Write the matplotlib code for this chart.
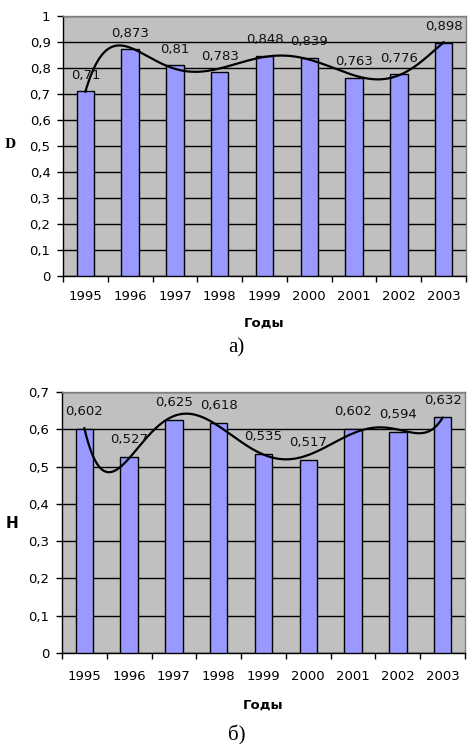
import numpy as np
import matplotlib
matplotlib.use("Agg")
import matplotlib.pyplot as plt

years = ["1995", "1996", "1997", "1998", "1999", "2000", "2001", "2002", "2003"]
d_values = [0.71, 0.873, 0.81, 0.783, 0.848, 0.839, 0.763, 0.776, 0.898]
h_values = [0.602, 0.527, 0.625, 0.618, 0.535, 0.517, 0.602, 0.594, 0.632]

plt.rcParams["font.family"] = ["DejaVu Sans"]

BG = "#C0C0C0"
BAR = "#9999FF"
FS = 9.5


def fmt(v):
    s = f"{v:.3f}".rstrip("0").rstrip(".")
    return s.replace(".", ",")


def panel(ax, values, ymax, ylabel, label_off, ylab_kw, ylab_xy, xlab_y, xpad):
    x = np.arange(len(values))
    ax.set_facecolor(BG)
    ax.bar(x, values, width=0.39, color=BAR, edgecolor="black", linewidth=1.0, zorder=3)
    # polynomial trend line (degree 6)
    coef = np.polyfit(x, values, 6)
    xs = np.linspace(0, len(values) - 1, 400)
    ax.plot(xs, np.polyval(coef, xs), color="black", linewidth=1.6, zorder=5)
    for xi, v in zip(x, values):
        ax.annotate(fmt(v), (xi, v), xytext=(0, label_off), textcoords="offset points",
                    ha="center", va="center", fontsize=FS, color="#111111", zorder=6)
    ax.set_xlim(-0.5, len(values) - 0.5)
    ax.set_ylim(0, ymax)
    yt = np.round(np.arange(0, ymax + 1e-9, 0.1), 1)
    ax.set_yticks(yt)
    ax.set_yticklabels([fmt(t) if t not in (0, 1) else str(int(t)) for t in yt], fontsize=FS)
    ax.yaxis.grid(True, color="black", linewidth=1.0, zorder=1)
    ax.set_axisbelow(True)
    ax.set_xticks(np.arange(-0.5, len(values), 1.0))
    ax.set_xticklabels([])
    ax.set_xticks(x, minor=True)
    ax.set_xticklabels(years, minor=True, fontsize=FS)
    ax.tick_params(axis="x", which="major", length=4, width=1, direction="out")
    ax.tick_params(axis="x", which="minor", length=0, pad=xpad)
    ax.tick_params(axis="y", length=4, width=1, direction="out", pad=5)
    for s in ("top", "right"):
        ax.spines[s].set_color("#808080")
        ax.spines[s].set_linewidth(1.0)
    for s in ("left", "bottom"):
        ax.spines[s].set_color("black")
        ax.spines[s].set_linewidth(1.0)
    ax.set_xlabel("Годы", fontsize=9.5, fontweight="bold", va="center")
    ax.xaxis.set_label_coords(0.5, xlab_y)
    ax.set_ylabel(ylabel, rotation=0, fontweight="bold", va="center", ha="center", **ylab_kw)
    ax.yaxis.set_label_coords(*ylab_xy)


fig = plt.figure(figsize=(4.73, 7.44), dpi=100)
ax1 = fig.add_axes([0.1332, 0.629, 0.852, 0.3495])
ax2 = fig.add_axes([0.131, 0.1223, 0.852, 0.3508])

panel(ax1, d_values, 1.0, "D", 11.5, dict(fontsize=9, family="DejaVu Serif"),
      (-0.131, 0.504), -0.181, 10)
panel(ax2, h_values, 0.7, "H", 12.5, dict(fontsize=11),
      (-0.124, 0.498), -0.199, 12)

fig.text(0.5, 1 - 348 / 744, "а)", ha="center", va="center", fontsize=15, family="Liberation Serif")
fig.text(0.5, 1 - 735 / 744, "б)", ha="center", va="center", fontsize=15, family="Liberation Serif")

fig.savefig("out.png", dpi=100, facecolor="white")
